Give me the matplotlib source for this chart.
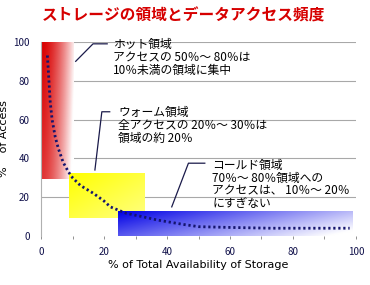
import numpy as np
import matplotlib
matplotlib.use('Agg')
import matplotlib.pyplot as plt

plt.rcParams['font.family'] = ['Noto Sans CJK JP', 'DejaVu Sans']

# access curve
curve_x = [2, 2.5, 2.9, 3.5, 4.5, 5.5, 7, 8.7, 10, 12.5, 16.6, 20, 22, 27, 32, 37, 45, 50, 60, 73, 85, 98]
curve_y = [93, 80, 69, 60, 51, 45, 38, 33, 30, 26, 22, 18, 15, 11.7, 10, 8.2, 6, 4.8, 4.4, 4, 4, 4]

# storage zones: x range, y range
zone_names = ['hot', 'warm', 'cold']
zone_x = [(0, 10.2), (8.8, 32.7), (24.5, 99)]
zone_y = [(29.5, 100), (9.5, 32.5), (0, 12.8)]

yticks = [0, 20, 40, 60, 80, 100]
xticks = [0, 20, 40, 60, 80, 100]

title = 'ストレージの領域とデータアクセス頻度'
notes = {
    'hot': 'ホット領域\nアクセスの 50％～ 80％は\n10％未満の領域に集中',
    'warm': 'ウォーム領域\n全アクセスの 20％～ 30％は\n領域の約 20％',
    'cold': 'コールド領域\n70％～ 80％領域への\nアクセスは、 10％～ 20％\nにすぎない',
}


def gradient(rgb, h_fade, v_fade, h_pow=1.0, n=60):
    """fade a colour to white, left->right and top->bottom"""
    u = np.linspace(0, 1, n)[None, :] ** h_pow
    v = np.linspace(1, 0, n)[:, None]
    mix = np.clip(h_fade * u + v_fade * (1 - v), 0, 1)
    img = np.zeros((n, n, 3))
    for k in range(3):
        img[:, :, k] = rgb[k] + (1 - rgb[k]) * mix
    return img


zone_style = {
    'hot': ((0.85, 0.0, 0.0), 0.92, 0.2, 1.6),
    'warm': ((1.0, 1.0, 0.0), 0.25, 0.25, 1.0),
    'cold': ((0.0, 0.0, 0.9), 0.72, 0.35, 1.0),
}

fig = plt.figure(figsize=(3.7, 2.85), dpi=100)
ax = fig.add_axes([0.111, 0.172, 0.851, 0.681])

for y in yticks[1:]:
    ax.axhline(y, color='#a8a8a8', lw=0.8, zorder=0)

for name, (x0, x1), (y0, y1) in zip(zone_names, zone_x, zone_y):
    rgb, hf, vf, hp = zone_style[name]
    ax.imshow(gradient(rgb, hf, vf, hp), extent=[x0, x1, y0, y1], aspect='auto',
              interpolation='bilinear', zorder=1)

ax.plot(curve_x, curve_y, color='#14146e', lw=2.0, linestyle=(0, (0.8, 1.0)), zorder=3)

# leader lines + notes
lc = '#1a1a4a'
ax.plot([11, 16.5, 21], [90, 99, 99], color=lc, lw=0.9, zorder=4)
ax.plot([17.1, 19.3, 21.8], [34, 64, 64], color=lc, lw=0.9, zorder=4)
ax.plot([41.5, 46.8, 52], [15, 37.5, 37.5], color=lc, lw=0.9, zorder=4)

ax.text(22.8, 101.8, notes['hot'], fontsize=8.5, va='top', ha='left', linespacing=0.98, zorder=5)
ax.text(24.4, 66.8, notes['warm'], fontsize=8.5, va='top', ha='left', linespacing=0.98, zorder=5)
ax.text(54.3, 39.8, notes['cold'], fontsize=8.5, va='top', ha='left', linespacing=0.98, zorder=5)

ax.set_xlim(0, 100)
ax.set_ylim(0, 100)
ax.set_xticks(xticks)
ax.set_xticks(range(0, 101, 10), minor=True)
ax.set_yticks(yticks)
ax.tick_params(axis='x', length=2, width=0.6, color='#808080', pad=6, labelsize=7, labelcolor='#10104a')
ax.tick_params(axis='x', which='minor', length=2, width=0.6, color='#808080')
ax.tick_params(axis='y', length=0, pad=8, labelsize=7, labelcolor='#10104a')
for s in ['top', 'right', 'bottom']:
    ax.spines[s].set_visible(False)
ax.spines['left'].set_color('#b0b0b0')
ax.spines['left'].set_linewidth(0.8)

ax.set_xlabel('% of Total Availability of Storage', fontsize=8, family='DejaVu Sans', labelpad=2)
ax.set_ylabel('%    of Access', fontsize=8, family='DejaVu Sans', labelpad=3)

fig.text(0.495, 0.945, title, fontsize=11.3, fontweight='bold', color='#d60000',
         ha='center', va='center')

fig.savefig('out.png', dpi=100)
